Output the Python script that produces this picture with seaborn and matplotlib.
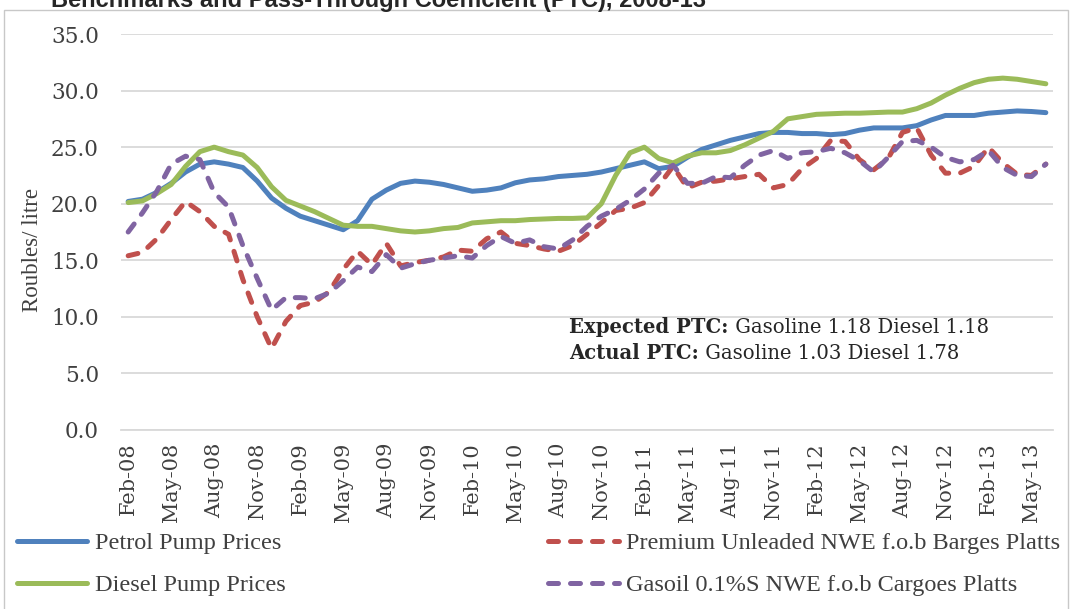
import matplotlib
matplotlib.use("Agg")
import matplotlib.pyplot as plt
import seaborn as sns
import pandas as pd
import numpy as np
from matplotlib.lines import Line2D
from matplotlib.patches import Rectangle

# Monthly data, Feb-08 .. Jun-13 (roubles per litre)
months = pd.date_range("2008-02-01", periods=65, freq="MS").strftime("%b-%y").tolist()

petrol = [20.2, 20.4, 21.0, 21.8, 22.8, 23.5, 23.7, 23.5, 23.2, 22.0, 20.5, 19.6, 18.9,
          18.5, 18.1, 17.7, 18.5, 20.4, 21.2, 21.8, 22.0, 21.9, 21.7, 21.4, 21.1, 21.2,
          21.4, 21.85, 22.1, 22.2, 22.4, 22.5, 22.6, 22.8, 23.1, 23.4, 23.7, 23.1, 23.3,
          24.1, 24.8, 25.2, 25.6, 25.9, 26.2, 26.3, 26.3, 26.2, 26.2, 26.1, 26.2, 26.5,
          26.7, 26.7, 26.7, 26.9, 27.4, 27.8, 27.8, 27.8, 28.0, 28.1, 28.2, 28.15, 28.05]
premium = [15.4, 15.7, 16.9, 18.6, 20.2, 19.3, 18.0, 17.3, 13.3, 10.0, 7.2, 9.6, 11.0,
           11.3, 12.2, 14.2, 15.8, 14.6, 16.5, 14.5, 14.8, 15.0, 15.3, 15.9, 15.8, 16.9,
           17.5, 16.5, 16.3, 16.0, 15.8, 16.3, 17.3, 18.3, 19.4, 19.6, 20.1, 21.6, 23.3,
           21.4, 21.9, 22.0, 22.2, 22.4, 22.6, 21.4, 21.7, 23.1, 24.0, 25.6, 25.5, 23.9,
           23.0, 24.0, 26.3, 26.7, 24.3, 22.7, 22.7, 23.3, 25.0, 23.6, 22.6, 22.5, 23.5]
diesel = [20.1, 20.25, 20.9, 21.7, 23.3, 24.6, 25.0, 24.6, 24.3, 23.2, 21.5, 20.3, 19.8,
          19.3, 18.7, 18.1, 18.0, 18.0, 17.8, 17.6, 17.5, 17.6, 17.8, 17.9, 18.3, 18.4,
          18.5, 18.5, 18.6, 18.65, 18.7, 18.7, 18.75, 20.0, 22.5, 24.5, 25.0, 24.0, 23.6,
          24.2, 24.5, 24.5, 24.7, 25.2, 25.8, 26.4, 27.5, 27.7, 27.9, 27.95, 28.0, 28.0,
          28.05, 28.1, 28.1, 28.4, 28.9, 29.6, 30.2, 30.7, 31.0, 31.1, 31.0, 30.8, 30.6]
gasoil = [17.5, 19.2, 21.1, 23.5, 24.2, 23.9, 21.0, 19.7, 16.3, 13.4, 10.6, 11.7, 11.7,
          11.6, 12.1, 13.2, 14.4, 14.0, 15.5, 14.3, 14.7, 15.0, 15.2, 15.4, 15.2, 16.3,
          17.1, 16.5, 16.8, 16.2, 16.0, 16.8, 18.0, 18.9, 19.5, 20.3, 21.3, 22.7, 23.4,
          21.8, 21.8, 22.4, 22.3, 23.4, 24.3, 24.7, 24.0, 24.5, 24.6, 24.9, 24.5, 23.8,
          22.8, 24.1, 25.5, 25.6, 25.0, 24.1, 23.7, 23.9, 24.7, 23.2, 22.5, 22.4, 23.5]

names = ["Petrol Pump Prices", "Premium Unleaded NWE f.o.b Barges Platts",
         "Diesel Pump Prices", "Gasoil 0.1%S NWE f.o.b Cargoes Platts"]
colors = {names[0]: "#4F81BD", names[1]: "#C0504D", names[2]: "#9BBB59", names[3]: "#8064A2"}
dashes = {names[0]: "", names[1]: (2, 2.4), names[2]: "", names[3]: (2, 2.4)}

n = len(months)
df = pd.DataFrame({
    "month": np.tile(np.arange(n), 4),
    "price": petrol + premium + diesel + gasoil,
    "series": np.repeat(names, n),
})

sns.set_style("white")
plt.rcParams["font.family"] = ["DejaVu Serif"]

fig = plt.figure(figsize=(10.71, 6.09), dpi=100)
ax = fig.add_axes([121 / 1071, 1 - 430 / 609, (1053 - 121) / 1071, (430 - 34) / 609])

sns.lineplot(data=df, x="month", y="price", hue="series", style="series",
             hue_order=names, style_order=names, palette=colors, dashes=dashes,
             linewidth=3.6, legend=False, ax=ax,
             dash_capstyle="round", solid_capstyle="round")

ax.set_xlim(-0.5, n - 0.5)
ax.set_ylim(0, 35)

# gridlines & spines
ax.yaxis.grid(True, color="#d9d9d9", linewidth=1.3)
ax.xaxis.grid(False)
ax.set_axisbelow(True)
for s in ["left", "top", "right"]:
    ax.spines[s].set_visible(False)
ax.spines["bottom"].set_color("#d9d9d9")
ax.spines["bottom"].set_linewidth(1.3)

# y axis
ax.set_yticks(np.arange(0, 36, 5))
ax.set_yticklabels([f"{v:.1f}" for v in np.arange(0, 36, 5)])
ax.tick_params(axis="y", length=0, pad=16, labelsize=15.5, labelcolor="#404040")
ax.set_ylabel("Roubles/ litre", family="Liberation Serif", fontsize=16.5, color="#404040")
ax.yaxis.set_label_coords(-0.084, 0.455)
ax.set_xlabel("")

# x axis: tick marks at category boundaries, labels every 3 months
ax.set_xticks(np.arange(-0.5, n - 1, 3))
ax.set_xticklabels([])
ax.tick_params(axis="x", which="major", length=7, width=1.3, color="#d9d9d9")
ax.set_xticks(np.arange(0, n, 3), minor=True)
ax.set_xticklabels(months[::3], minor=True, rotation=90)
ax.tick_params(axis="x", which="minor", length=0, pad=9, labelsize=15, labelcolor="#404040")

# PTC annotation
t1 = ax.text(0.481, 0.236, "Expected PTC:", transform=ax.transAxes, fontsize=14.1,
             fontweight="bold", va="bottom", ha="left")
ax.annotate(" Gasoline 1.18 Diesel 1.18", xy=(1, 0), xycoords=t1, fontsize=14.1,
            va="bottom", ha="left")
t2 = ax.text(0.481, 0.168, "Actual PTC:", transform=ax.transAxes, fontsize=14.1,
             fontweight="bold", va="bottom", ha="left")
ax.annotate(" Gasoline 1.03 Diesel 1.78", xy=(1, 0), xycoords=t2, fontsize=14.1,
            va="bottom", ha="left")

# legend below the plot
handles = [Line2D([0], [0], color=colors[nm], lw=3.6, dashes=dashes[nm] or (None, None),
                  dash_capstyle="round", solid_capstyle="round") for nm in names]
order = [0, 2, 1, 3]
fig.legend([handles[i] for i in order], [names[i] for i in order], ncol=2,
           loc="upper left", bbox_to_anchor=(17 / 1071, 1 - 532 / 609),
           frameon=False, borderpad=0, borderaxespad=0, handlelength=2.9,
           handletextpad=0.3, columnspacing=10.8, labelspacing=0.84,
           prop={"family": "Liberation Serif", "size": 17.5}, labelcolor="#404040")

# cut-off title and outer chart border
fig.text(706 / 1071, 1 - 7 / 609, "Benchmarks and Pass-Through Coefficient (PTC), 2008-13",
         ha="right", va="baseline", fontsize=17, fontweight="bold", family="Liberation Sans")
fig.patches.append(Rectangle((4 / 1071, -0.1), (1068 - 4) / 1071, 1.1 - 10 / 609,
                             transform=fig.transFigure, fill=False,
                             edgecolor="#c8c8c8", linewidth=1))

fig.savefig("out.png", dpi=100)
